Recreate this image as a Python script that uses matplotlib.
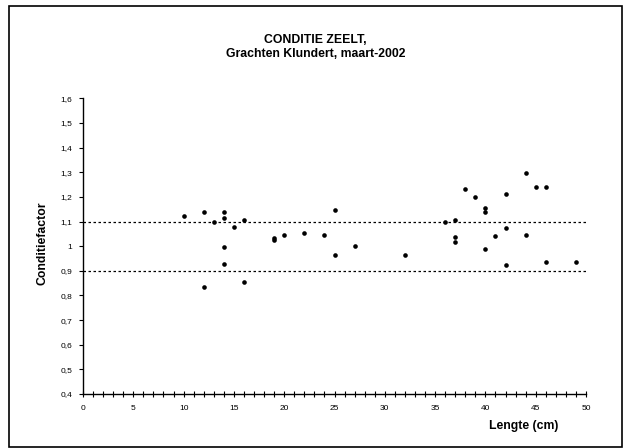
import matplotlib
matplotlib.use("Agg")
import matplotlib.pyplot as plt
from matplotlib.patches import Rectangle
from matplotlib.ticker import MultipleLocator, FuncFormatter

lengte = [10, 12, 13, 14, 14, 15, 16, 19, 19, 14, 14, 12, 16,
          20, 22, 24, 25, 25, 27, 32, 36, 37, 37, 37, 38,
          39, 40, 40, 40, 41, 42, 42, 42, 44, 44, 45, 46, 46, 49]
conditie = [1.122, 1.137, 1.099, 1.138, 1.114, 1.076, 1.105, 1.032, 1.024, 0.995, 0.926, 0.835, 0.854,
            1.045, 1.053, 1.045, 1.146, 0.963, 0.999, 0.965, 1.099, 1.107, 1.037, 1.015, 1.231,
            1.198, 1.153, 1.137, 0.988, 1.042, 1.212, 1.072, 0.923, 1.298, 1.045, 1.241, 1.241, 0.934, 0.934]
grenzen = [1.1, 0.9]

plt.rcParams['font.family'] = ['Liberation Sans', 'DejaVu Sans']

W, H = 625, 448
fig = plt.figure(figsize=(W/100, H/100), dpi=100)
fig.patch.set_facecolor('white')

# outer border
fig.add_artist(Rectangle((9/W, 1 - 447/H), (622-9)/W, (447-6)/H, transform=fig.transFigure,
                         fill=False, edgecolor='black', linewidth=1.2))

x0, x1 = 83, 586
y0, y1 = 98.3, 394
ax = fig.add_axes([x0/W, 1 - y1/H, (x1-x0)/W, (y1-y0)/H])
ax.set_xlim(0, 50)
ax.set_ylim(0.4, 1.6)

for g in grenzen:
    ax.plot([0, 50], [g, g], color='black', linestyle=(0, (2, 2)), linewidth=0.9)

ax.scatter(lengte, conditie, s=11, color='black', zorder=3, linewidths=0)

ax.spines['top'].set_visible(False)
ax.spines['right'].set_visible(False)
ax.spines['left'].set_linewidth(1.0)
ax.spines['bottom'].set_linewidth(1.0)

ax.xaxis.set_major_locator(MultipleLocator(5))
ax.xaxis.set_minor_locator(MultipleLocator(1))
ax.yaxis.set_major_locator(MultipleLocator(0.1))
ax.yaxis.set_major_formatter(FuncFormatter(lambda v, p: ('%g' % round(v, 1)).replace('.', ',')))
ax.tick_params(axis='x', which='both', direction='inout', length=4, width=0.8, labelsize=6, pad=6)
ax.tick_params(axis='y', which='major', direction='out', length=3, width=0.8, labelsize=6, pad=4.5)

fig.text(315.5/W, 1 - 42.7/H, 'CONDITIE ZEELT,', ha='center', va='baseline', fontsize=8.8, fontweight='bold')
fig.text(315.5/W, 1 - 57.3/H, 'Grachten Klundert, maart-2002', ha='center', va='baseline', fontsize=8.8, fontweight='bold')
fig.text(524/W, 1 - 429/H, 'Lengte (cm)', ha='center', va='baseline', fontsize=8.8, fontweight='bold')
fig.text(43/W, 1 - 243/H, 'Conditiefactor', ha='center', va='center', fontsize=8.8, fontweight='bold', rotation=90)

fig.savefig('out.png', dpi=100, facecolor='white')
